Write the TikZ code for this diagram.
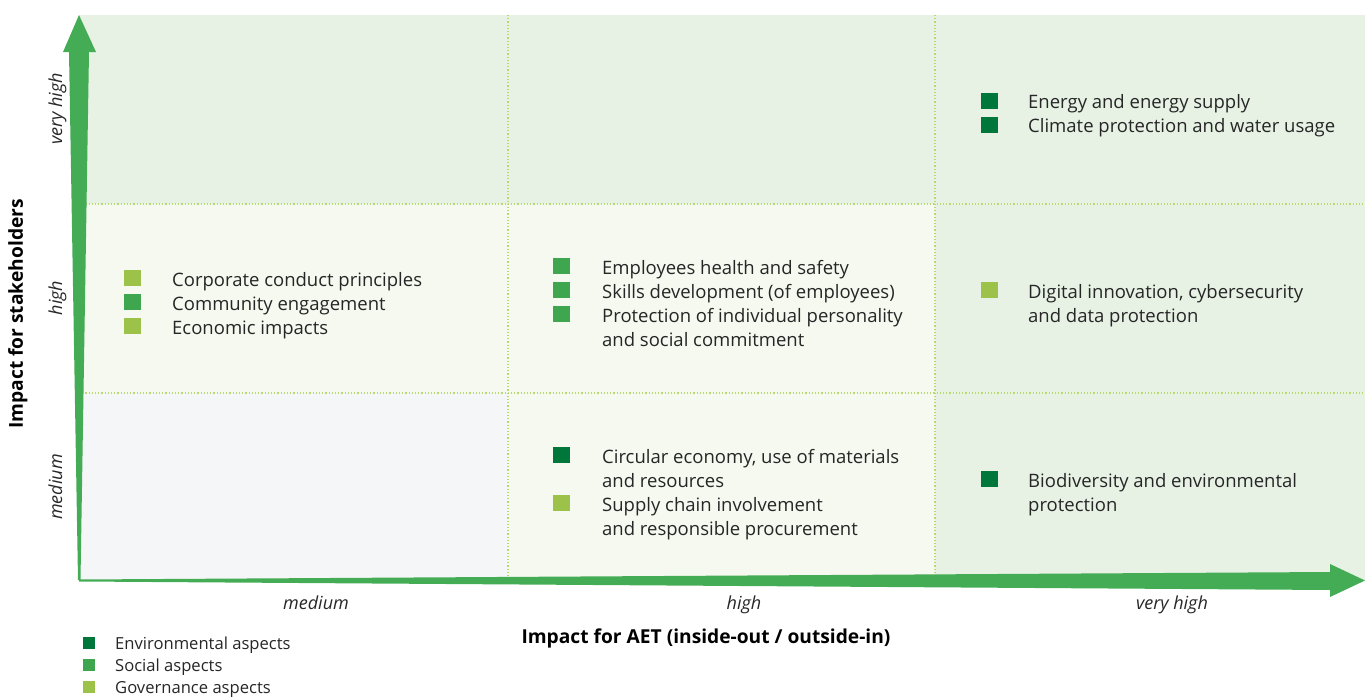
\documentclass[tikz,border=0pt]{standalone}
\usepackage{fontspec}
\setmainfont{Open Sans}
\definecolor{envc}{HTML}{00773A}
\definecolor{socc}{HTML}{3FA650}
\definecolor{govc}{HTML}{9DC24A}
\definecolor{arrowc}{HTML}{45AC56}
\definecolor{bgdark}{HTML}{E7F2E5}
\definecolor{bglight}{HTML}{F6F9F0}
\definecolor{bggrey}{HTML}{F4F6F7}
\definecolor{dotc}{HTML}{B9D86E}
\begin{document}
\begin{tikzpicture}[x=1pt,y=-1pt,
  itemtxt/.style={anchor=base west,inner sep=0pt,font=\fontsize{18.5}{24}\selectfont,text=black!85},
  legtxt/.style={anchor=base west,inner sep=0pt,font=\fontsize{16.6}{22}\selectfont,text=black!85},
  axtxt/.style={anchor=base,inner sep=0pt,font=\fontsize{18}{24}\selectfont\itshape,text=black!85},
  ttl/.style={anchor=base,inner sep=0pt,font=\fontsize{19.2}{24}\selectfont\bfseries},
  sq/.style={draw=none,inner sep=0pt,minimum width=17pt,minimum height=16pt,anchor=south west},
  lsq/.style={draw=none,inner sep=0pt,minimum width=12pt,minimum height=12pt,anchor=south west},
  grid/.style={dotc,line width=1.2pt,dash pattern=on 1.2pt off 2pt}]
\useasboundingbox (0,0) rectangle (1365,696);
% backgrounds
\fill[bgdark] (79,15) rectangle (1365,204);
\fill[bglight] (79,204) rectangle (935,393);
\fill[bggrey] (79,393) rectangle (508,580);
\fill[bglight] (508,393) rectangle (935,580);
\fill[bgdark] (935,204) rectangle (1365,580);
% grid
\draw[grid] (508,15) -- (508,580);
\draw[grid] (935,15) -- (935,580);
\draw[grid] (79,204) -- (1365,204);
\draw[grid] (79,393) -- (1365,393);
% arrows
\fill[arrowc] (78,580) -- (69,52) -- (63,52) -- (79,15) -- (96,52) -- (89,52) -- (80.5,580) -- cycle;
\fill[arrowc] (79,579.5) -- (1330,572) -- (1330,564) -- (1365,580.5) -- (1330,597) -- (1330,590) -- (79,581.5) -- cycle;
% top right
\node[sq,fill=envc] (s1) at (981,109) {};
\node[itemtxt] (t1) at (1028,108) {Energy and energy supply};
\node[sq,fill=envc] (s2) at (981,133) {};
\node[itemtxt] (t2) at (1028,132) {Climate protection and water usage};
% middle left
\node[sq,fill=govc] (s3) at (124,286) {};
\node[itemtxt] (t3) at (172,286) {Corporate conduct principles};
\node[sq,fill=socc] (s4) at (124,310) {};
\node[itemtxt] (t4) at (172,310) {Community engagement};
\node[sq,fill=govc] (s5) at (124,334) {};
\node[itemtxt] (t5) at (172,334) {Economic impacts};
% middle middle
\node[sq,fill=socc] (s6) at (553,274) {};
\node[itemtxt] (t6) at (602,274) {Employees health and safety};
\node[sq,fill=socc] (s7) at (553,298) {};
\node[itemtxt] (t7) at (602,298) {Skills development (of employees)};
\node[sq,fill=socc] (s8) at (553,322) {};
\node[itemtxt] (t8) at (602,322) {Protection of individual personality};
\node[itemtxt] (t8b) at (602,346) {and social commitment};
% middle right
\node[sq,fill=govc] (s9) at (981,298) {};
\node[itemtxt] (t9) at (1028,298) {Digital innovation, cybersecurity};
\node[itemtxt] (t9b) at (1028,322) {and data protection};
% bottom middle
\node[sq,fill=envc] (s10) at (553,463) {};
\node[itemtxt] (t10) at (602,463) {Circular economy, use of materials};
\node[itemtxt] (t10b) at (602,487) {and resources};
\node[sq,fill=govc] (s11) at (553,511) {};
\node[itemtxt] (t11) at (602,511) {Supply chain involvement};
\node[itemtxt] (t11b) at (602,535) {and responsible procurement};
% bottom right
\node[sq,fill=envc] (s12) at (981,487) {};
\node[itemtxt] (t12) at (1028,487) {Biodiversity and environmental};
\node[itemtxt] (t12b) at (1028,511) {protection};
% axis labels
\node[axtxt] (xm) at (316,609) {medium};
\node[axtxt] (xh) at (744,609) {high};
\node[axtxt] (xv) at (1172,609) {very high};
\node[axtxt,rotate=90] (ym) at (62,487) {medium};
\node[axtxt,rotate=90] (yh) at (62,298) {high};
\node[axtxt,rotate=90] (yv) at (62,109) {very high};
\node[ttl] (xt) at (706,643) {Impact for AET (inside-out / outside-in)};
\node[ttl,rotate=90] (yt) at (23,314) {Impact for stakeholders};
% legend
\node[lsq,fill=envc] (l1) at (83,649) {};
\node[legtxt] (lt1) at (115,649) {Environmental aspects};
\node[lsq,fill=socc] (l2) at (83,671) {};
\node[legtxt] (lt2) at (115,671) {Social aspects};
\node[lsq,fill=govc] (l3) at (83,693) {};
\node[legtxt] (lt3) at (115,693) {Governance aspects};
\end{tikzpicture}
\end{document}
